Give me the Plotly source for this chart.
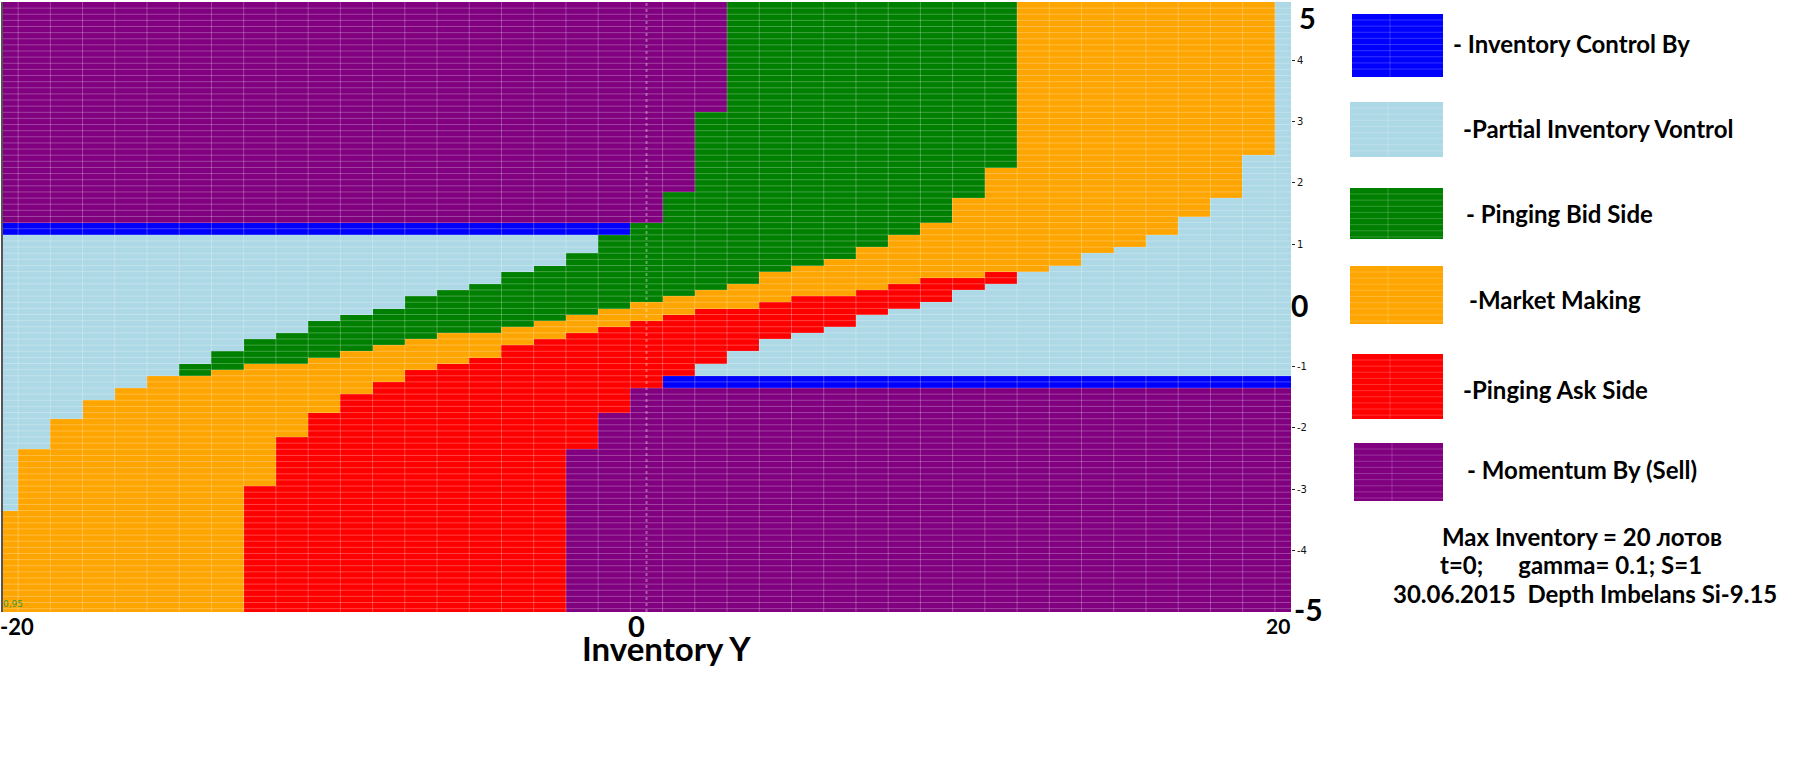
import numpy as np
import plotly.graph_objects as go

# ---------------- data ----------------
# columns: inventory Y (lots), rows: depth-imbalance level (cell centres, step 0.1)
inventory = list(range(-20, 21))
imbalance = [round(k / 10, 1) for k in range(-50, 50)]

# lower edge (y units) of each band, for inventory = -20 ... 20, bands listed top -> bottom
# top purple (momentum) band
sell_top_low = [1.35, 1.35, 1.35, 1.35, 1.35, 1.35, 1.35, 1.35, 1.35, 1.35,
                1.35, 1.35, 1.35, 1.35, 1.35, 1.35, 1.35, 1.35, 1.35, 1.35,
                1.35, 1.85, 3.15, 5.05, 5.05, 5.05, 5.05, 5.05, 5.05, 5.05,
                5.05, 5.05, 5.05, 5.05, 5.05, 5.05, 5.05, 5.05, 5.05, 5.05, 5.05]
# upper blue (inventory control) band
ctrl_top_low = [1.15, 1.15, 1.15, 1.15, 1.15, 1.15, 1.15, 1.15, 1.15, 1.15,
                1.15, 1.15, 1.15, 1.15, 1.15, 1.15, 1.15, 1.15, 1.15, 1.15,
                1.35, 1.85, 3.15, 5.05, 5.05, 5.05, 5.05, 5.05, 5.05, 5.05,
                5.05, 5.05, 5.05, 5.05, 5.05, 5.05, 5.05, 5.05, 5.05, 5.05, 5.05]
# upper light-blue (partial inventory control) band
partial_top_low = [-3.35, -2.35, -1.85, -1.55, -1.35, -1.15, -0.95, -0.75, -0.55, -0.45,
                   -0.25, -0.15, -0.05, 0.15, 0.25, 0.35, 0.55, 0.65, 0.85, 1.15,
                   1.35, 1.85, 3.15, 5.05, 5.05, 5.05, 5.05, 5.05, 5.05, 5.05,
                   5.05, 5.05, 5.05, 5.05, 5.05, 5.05, 5.05, 5.05, 5.05, 5.05, 5.05]
# green (pinging bid side) band
bid_low = [-3.35, -2.35, -1.85, -1.55, -1.35, -1.15, -1.15, -1.05, -0.95, -0.95,
           -0.85, -0.75, -0.65, -0.55, -0.45, -0.45, -0.35, -0.25, -0.15, -0.05,
           0.05, 0.15, 0.25, 0.35, 0.55, 0.65, 0.75, 0.95, 1.15, 1.35,
           1.75, 2.25, 5.05, 5.05, 5.05, 5.05, 5.05, 5.05, 5.05, 5.05, 5.05]
# orange (market making) band
mm_low = [-5.15, -5.15, -5.15, -5.15, -5.15, -5.15, -5.15, -5.15, -2.95, -2.15,
          -1.75, -1.45, -1.25, -1.05, -0.95, -0.85, -0.65, -0.55, -0.45, -0.35,
          -0.25, -0.15, -0.05, -0.05, 0.05, 0.15, 0.15, 0.25, 0.35, 0.45,
          0.45, 0.55, 0.55, 0.65, 0.85, 0.95, 1.15, 1.45, 1.75, 2.45, 5.05]
# red (pinging ask side) band
ask_low = [-5.15, -5.15, -5.15, -5.15, -5.15, -5.15, -5.15, -5.15, -5.15, -5.15,
           -5.15, -5.15, -5.15, -5.15, -5.15, -5.15, -5.15, -5.15, -2.35, -1.75,
           -1.35, -1.15, -0.95, -0.75, -0.55, -0.45, -0.35, -0.15, -0.05, 0.05,
           0.25, 0.35, 0.55, 0.65, 0.85, 0.95, 1.15, 1.45, 1.75, 2.45, 5.05]
# lower light-blue band
partial_bot_low = [-5.15, -5.15, -5.15, -5.15, -5.15, -5.15, -5.15, -5.15, -5.15, -5.15,
                   -5.15, -5.15, -5.15, -5.15, -5.15, -5.15, -5.15, -5.15, -2.35, -1.75,
                   -1.35, -1.15, -1.15, -1.15, -1.15, -1.15, -1.15, -1.15, -1.15, -1.15,
                   -1.15, -1.15, -1.15, -1.15, -1.15, -1.15, -1.15, -1.15, -1.15, -1.15, -1.15]
# lower blue band (below it: purple momentum band)
ctrl_bot_low = [-5.15, -5.15, -5.15, -5.15, -5.15, -5.15, -5.15, -5.15, -5.15, -5.15,
                -5.15, -5.15, -5.15, -5.15, -5.15, -5.15, -5.15, -5.15, -2.35, -1.75,
                -1.35, -1.35, -1.35, -1.35, -1.35, -1.35, -1.35, -1.35, -1.35, -1.35,
                -1.35, -1.35, -1.35, -1.35, -1.35, -1.35, -1.35, -1.35, -1.35, -1.35, -1.35]

# regime codes: 0 momentum, 1 inventory control, 2 partial control, 3 bid, 4 market making, 5 ask
band_codes = [0, 1, 2, 3, 4, 5, 2, 1, 0]
regime_colors = ["#800080", "#0000FF", "#ADD8E6", "#008000", "#FFA500", "#FF0000"]

legend_labels = ["- Inventory Control By", "-Partial Inventory Vontrol", "- Pinging Bid Side",
                 "-Market Making", "-Pinging Ask Side", "- Momentum By (Sell)"]
legend_colors = ["#0000FF", "#ADD8E6", "#008000", "#FFA500", "#FF0000", "#800080"]
info_lines = ["Max Inventory = 20 лотов",
              "t=0;\u00a0\u00a0\u00a0\u00a0\u00a0\u00a0gamma=\u00a00.1; S=1",
              "30.06.2015\u00a0\u00a0Depth Imbelans Si-9.15"]

# ---------------- build the category matrix ----------------
B = np.array([sell_top_low, ctrl_top_low, partial_top_low, bid_low,
              mm_low, ask_low, partial_bot_low, ctrl_bot_low])
codes = np.array(band_codes)
z = np.array([codes[(B > c).sum(axis=0)] for c in imbalance])

cs = []
n = len(regime_colors)
for i, col in enumerate(regime_colors):
    cs.append([i / n, col])
    cs.append([(i + 1) / n, col])

fig = go.Figure()
fig.add_trace(go.Heatmap(
    x=inventory, y=imbalance, z=z, zmin=-0.5, zmax=5.5,
    colorscale=cs, showscale=False, zsmooth=False, hoverinfo="skip"))

# faint cell grid on top of the heatmap
gx, gy = [], []
y_lo, y_hi = -5.005, 4.95
for xb in inventory[:-1]:
    gx += [xb + 0.5, xb + 0.5, None]
    gy += [y_lo, y_hi, None]
for yb in imbalance[:-1]:
    gx += [-20, 20, None]
    gy += [yb + 0.05, yb + 0.05, None]
fig.add_trace(go.Scatter(x=gx, y=gy, mode="lines", hoverinfo="skip", showlegend=False,
                         line=dict(color="rgba(255,255,255,0.26)", width=1)))

W, H = 1804, 768
L, R, T, Bm = 2, 1291, 2, 612


def px(xp):
    return (xp - L) / (R - L)


def py(yp):
    return (Bm - yp) / (Bm - T)


shapes = [
    dict(type="line", xref="x", yref="paper", x0=0, x1=0, y0=0, y1=1,
         line=dict(color="rgba(255,255,255,0.35)", width=2, dash="dot")),
    dict(type="line", xref="paper", yref="paper", x0=0, x1=0, y0=0, y1=1,
         line=dict(color="#555555", width=2)),
]
# legend swatches (with the faint cell lines copied from the chart)
sw = [(1352, 14, 77), (1350, 102, 157), (1350, 188, 239), (1350, 266, 324),
      (1352, 354, 419), (1354, 443, 501)]
for (x0, y0, y1), colr in zip(sw, legend_colors):
    shapes.append(dict(type="rect", xref="paper", yref="paper",
                       x0=px(x0), x1=px(1443), y0=py(y1), y1=py(y0),
                       fillcolor=colr, line=dict(width=0)))
    for yl in np.arange(y0 + 6, y1 - 2, 6.13):
        shapes.append(dict(type="line", xref="paper", yref="paper",
                           x0=px(x0), x1=px(1443), y0=py(yl), y1=py(yl),
                           line=dict(color="rgba(255,255,255,0.2)", width=1)))
    shapes.append(dict(type="line", xref="paper", yref="paper",
                       x0=px(x0 + 38), x1=px(x0 + 38), y0=py(y1), y1=py(y0),
                       line=dict(color="rgba(255,255,255,0.2)", width=1)))

bold = dict(family="Lato", color="black", weight="bold")
ann = []
txt_pos = [(1451, 43), (1461, 129), (1464, 213), (1467, 299), (1461, 389), (1465, 469)]
for (tx, ty), lab in zip(txt_pos, legend_labels):
    ann.append(dict(text=lab, x=px(tx), y=py(ty), xref="paper", yref="paper",
                    xanchor="left", yanchor="middle", showarrow=False,
                    font=dict(size=24, **bold)))
ann.append(dict(text=info_lines[0], x=px(1440), y=py(536), xref="paper", yref="paper",
                xanchor="left", yanchor="middle", showarrow=False, font=dict(size=24, **bold)))
ann.append(dict(text=info_lines[1], x=px(1438), y=py(564), xref="paper", yref="paper",
                xanchor="left", yanchor="middle", showarrow=False, font=dict(size=24, **bold)))
ann.append(dict(text=info_lines[2], x=px(1391), y=py(593), xref="paper", yref="paper",
                xanchor="left", yanchor="middle", showarrow=False, font=dict(size=24, **bold)))

# big axis labels
big = [("5", 1307, 17, 29), ("0", 1300, 305, 30), ("-5", 1308, 609, 30),
       ("-20", 17, 626, 22), ("0", 636, 625, 29), ("20", 1278, 625, 21),
       ("Inventory Y", 666, 648, 33)]
for t, tx, ty, s in big:
    ann.append(dict(text=t, x=px(tx), y=py(ty), xref="paper", yref="paper",
                    xanchor="center", yanchor="middle", showarrow=False,
                    font=dict(size=s, **bold)))
ann.append(dict(text="0,95", x=px(1), y=py(604), xref="paper", yref="paper",
                xanchor="left", yanchor="middle", showarrow=False,
                font=dict(size=9, family="DejaVu Sans", color="#3a9a3a")))

fig.update_layout(
    width=W, height=H,
    margin=dict(l=L, r=W - R, t=T, b=H - Bm, pad=0),
    paper_bgcolor="white", plot_bgcolor="white",
    showlegend=False,
    xaxis=dict(range=[-20, 20], showticklabels=False, ticks="", showgrid=False,
               zeroline=False, showline=False),
    yaxis=dict(range=[y_lo, y_hi], side="right", tickvals=[-4, -3, -2, -1, 1, 2, 3, 4],
               ticktext=["-4", "-3", "-2", "-1", "1", "2", "3", "4"],
               ticks="outside", ticklen=3, tickcolor="#222", showgrid=False,
               zeroline=False, showline=False,
               tickfont=dict(family="DejaVu Sans", size=10, color="#111")),
    shapes=shapes, annotations=ann,
)

fig.write_html("out.html", config={"displayModeBar": False},
               post_script="document.body.style.margin='0px';document.body.style.overflow='hidden';")
